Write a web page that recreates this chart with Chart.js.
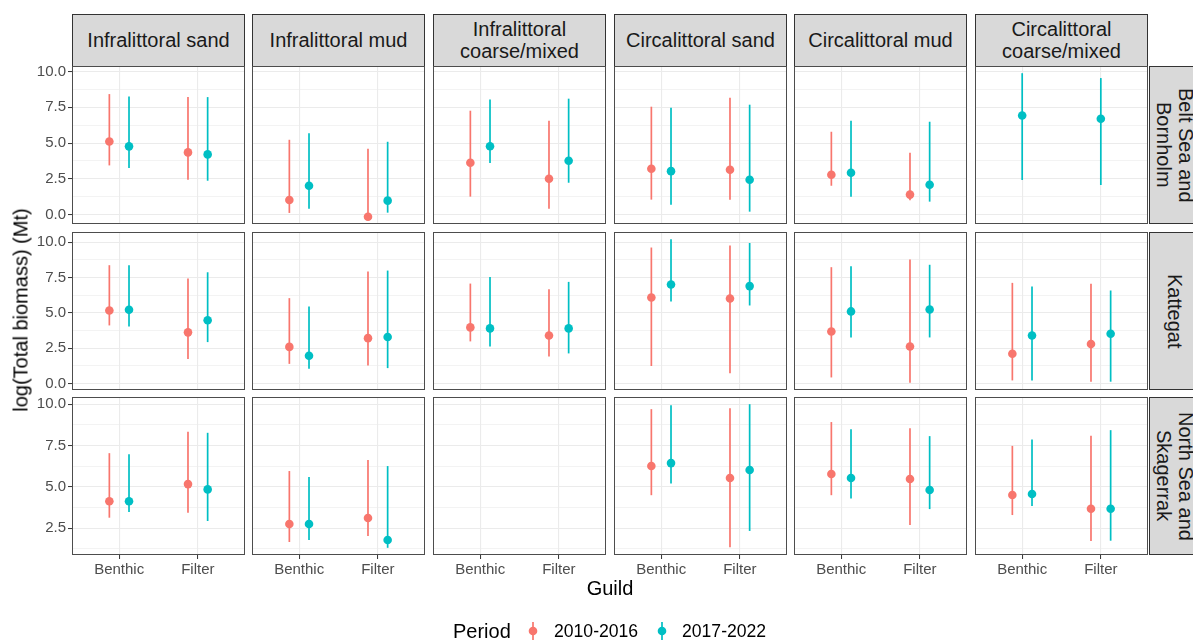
<!DOCTYPE html>
<html>
<head>
<meta charset="utf-8">
<script src="https://cdn.jsdelivr.net/npm/chart.js@4/dist/chart.umd.min.js"></script>
<style>
  body { margin: 0; width: 1193px; height: 640px; overflow: hidden; background: #fff; position: relative;
         font-family: "Liberation Sans", Arial, sans-serif; }
  canvas { position: absolute; }
  .strip { position: absolute; background: #d9d9d9; border: 1px solid #333; box-sizing: border-box;
           display: flex; align-items: center; justify-content: center; text-align: center;
           color: #1a1a1a; font-size: 20px; line-height: 21.7px; white-space: pre-line; }
  .rstrip { writing-mode: vertical-rl; }
  .title { position: absolute; font-size: 20px; color: #000; white-space: nowrap; }
  .leg { position: absolute; white-space: nowrap; color: #000; }
</style>
</head>
<body>
<script>
const habitats = ['Infralittoral sand', 'Infralittoral mud', 'Infralittoral\ncoarse/mixed',
                  'Circalittoral sand', 'Circalittoral mud', 'Circalittoral\ncoarse/mixed'];
const regions = ['Belt Sea and\nBornholm', 'Kattegat', 'North Sea and\nSkagerrak'];
const guilds = ['Benthic', 'Filter'];
const periods = ['2010-2016', '2017-2022'];
const periodColors = ['#F8766D', '#00BFC4'];
const yMajor = [0, 2.5, 5, 7.5, 10];
const yMinor = [1.25, 3.75, 6.25, 8.75];

// [region][habitat] -> [Benthic, Filter]; null = no estimate
const mid2010 = [
  [[5.11, 4.35], [1.02, -0.15], [3.63, 2.51], [3.21, 3.14], [2.79, 1.40], [null, null]],
  [[5.18, 3.63], [2.60, 3.22], [3.98, 3.41], [6.09, 6.02], [3.69, 2.63], [2.12, 2.80]],
  [[4.13, 5.17], [2.76, 3.12], [null, null], [6.26, 5.54], [5.78, 5.48], [4.51, 3.68]]
];
const lo2010 = [
  [[3.44, 2.44], [0.12, -0.15], [1.26, 0.42], [1.05, 1.05], [2.02, 1.00], [null, null]],
  [[4.12, 1.74], [1.40, 1.29], [2.99, 1.93], [1.25, 0.73], [0.44, 0.06], [0.23, 0.14]],
  [[3.14, 3.44], [1.67, 2.03], [null, null], [4.50, 1.35], [4.50, 2.70], [3.30, 1.73]]
];
const hi2010 = [
  [[8.42, 8.21], [5.23, 4.60], [7.26, 6.56], [7.54, 8.16], [5.79, 4.33], [null, null]],
  [[8.38, 7.44], [6.05, 7.93], [7.08, 6.67], [9.63, 9.77], [8.24, 8.78], [7.13, 7.06]],
  [[7.04, 8.33], [5.96, 6.62], [null, null], [9.70, 9.76], [8.92, 8.55], [7.48, 8.09]]
];
const mid2017 = [
  [[4.77, 4.21], [2.02, 0.98], [4.78, 3.77], [3.04, 2.44], [2.93, 2.09], [6.93, 6.70]],
  [[5.23, 4.49], [1.97, 3.30], [3.91, 3.91], [7.01, 6.90], [5.11, 5.25], [3.41, 3.53]],
  [[4.13, 4.85], [2.76, 1.79], [null, null], [6.44, 6.02], [5.54, 4.81], [4.57, 3.68]]
];
const lo2017 = [
  [[3.26, 2.37], [0.42, 0.14], [3.60, 2.23], [0.70, 0.21], [1.26, 0.91], [2.42, 2.07]],
  [[4.05, 2.94], [1.05, 1.10], [2.63, 2.14], [5.81, 5.53], [3.27, 3.27], [0.23, 0.14]],
  [[3.48, 2.94], [1.79, 1.32], [null, null], [5.20, 2.34], [4.30, 3.66], [3.85, 1.75]]
];
const hi2017 = [
  [[8.25, 8.21], [5.68, 5.09], [8.05, 8.10], [7.47, 7.68], [6.56, 6.49], [9.88, 9.54]],
  [[8.38, 7.88], [5.46, 8.00], [7.55, 7.20], [10.22, 9.95], [8.31, 8.41], [6.87, 6.59]],
  [[6.98, 8.27], [5.60, 6.26], [null, null], [9.94, 10.00], [8.49, 8.07], [7.87, 8.43]]
];

const mids = [mid2010, mid2017], los = [lo2010, lo2017], his = [hi2010, hi2017];

// panel layout
const colX = [72, 252, 433, 614, 794, 975];
const rowY = [66, 232, 397];
const W = 173, H = 158;
const FONT = '"Liberation Sans", Arial, sans-serif';

const isMajor = v => yMajor.includes(v);

// y range per row, like ggplot's free_y with 5% expansion
function rowRange(r) {
  let lo = Infinity, hi = -Infinity;
  for (let p = 0; p < 2; p++) {
    for (let h = 0; h < habitats.length; h++) {
      for (let g = 0; g < 2; g++) {
        [mids, los, his].forEach(a => {
          const v = a[p][r][h][g];
          if (v != null) { lo = Math.min(lo, v); hi = Math.max(hi, v); }
        });
      }
    }
  }
  const pad = (hi - lo) * 0.05;
  return [lo - pad, hi + pad];
}

const panelBorder = {
  id: 'panelBorder',
  afterDraw(chart) {
    const a = chart.chartArea, ctx = chart.ctx;
    ctx.save();
    ctx.strokeStyle = '#4d4d4d';
    ctx.lineWidth = 1;
    ctx.strokeRect(a.left + 0.5, a.top + 0.5, a.right - a.left - 1, a.bottom - a.top - 1);
    ctx.restore();
  }
};

function addDiv(cls, text, css) {
  const d = document.createElement('div');
  d.className = cls;
  d.textContent = text;
  Object.assign(d.style, css);
  document.body.appendChild(d);
  return d;
}

function makePanel(r, h) {
  const padL = h === 0 ? 72 : 0;
  const padB = r === 2 ? 30 : 0;
  const cv = document.createElement('canvas');
  cv.width = W + padL;
  cv.height = H + padB;
  cv.style.left = (colX[h] - padL) + 'px';
  cv.style.top = rowY[r] + 'px';
  document.body.appendChild(cv);

  const datasets = [];
  guilds.forEach((g, gi) => {
    const has = [0, 1].map(p => mids[p][r][h][gi] != null);
    const both = has[0] && has[1];
    [0, 1].forEach(p => {
      if (!has[p]) return;
      const x = gi + 1 + (both ? (p === 0 ? -0.125 : 0.125) : 0);
      datasets.push({
        label: periods[p],
        data: [{ x: x, y: los[p][r][h][gi] }, { x: x, y: his[p][r][h][gi] }],
        showLine: true,
        borderColor: periodColors[p],
        borderWidth: 1.7,
        borderCapStyle: 'butt',
        pointRadius: 0
      });
      datasets.push({
        label: periods[p],
        data: [{ x: x, y: mids[p][r][h][gi] }],
        backgroundColor: periodColors[p],
        borderWidth: 0,
        pointRadius: 4.3
      });
    });
  });

  const [ymin, ymax] = rowRange(r);

  new Chart(cv.getContext('2d'), {
    type: 'scatter',
    data: { datasets: datasets },
    options: {
      responsive: false,
      animation: false,
      devicePixelRatio: 1,
      events: [],
      layout: { padding: 0, autoPadding: false },
      plugins: { legend: { display: false }, tooltip: { enabled: false } },
      scales: {
        x: {
          type: 'linear',
          min: 0.4,
          max: 2.6,
          afterBuildTicks: s => { s.ticks = [{ value: 1 }, { value: 2 }]; },
          afterFit: s => { s.height = padB; s.paddingLeft = 0; s.paddingRight = 0; },
          border: { display: false },
          grid: {
            color: '#EBEBEB', lineWidth: 1.1,
            drawTicks: padB > 0, tickLength: 4, tickColor: '#333', tickWidth: 1
          },
          ticks: {
            display: padB > 0, autoSkip: false, maxRotation: 0, padding: 2,
            color: '#4D4D4D', font: { size: 15, family: FONT },
            callback: v => guilds[v - 1]
          }
        },
        y: {
          type: 'linear',
          min: ymin,
          max: ymax,
          afterBuildTicks: s => {
            s.ticks = yMajor.concat(yMinor)
              .filter(v => v >= ymin && v <= ymax)
              .sort((a, b) => a - b)
              .map(v => ({ value: v }));
          },
          afterFit: s => { s.width = padL; s.paddingTop = 0; s.paddingBottom = 0; },
          border: { display: false },
          grid: {
            color: '#EBEBEB',
            lineWidth: c => (c.tick && isMajor(c.tick.value)) ? 1.1 : 0.6,
            drawTicks: padL > 0, tickLength: 4, tickWidth: 1,
            tickColor: c => (c.tick && isMajor(c.tick.value)) ? '#333' : 'rgba(0,0,0,0)'
          },
          ticks: {
            display: padL > 0, autoSkip: false, padding: 2,
            color: '#4D4D4D', font: { size: 15, family: FONT },
            callback: v => isMajor(v) ? v.toFixed(1) : ''
          }
        }
      }
    },
    plugins: [panelBorder]
  });
}

// strips
habitats.forEach((name, h) => {
  addDiv('strip', name, { left: colX[h] + 'px', top: '14px', width: W + 'px', height: '53px' });
});
regions.forEach((name, r) => {
  addDiv('strip rstrip', name, { left: '1149px', top: rowY[r] + 'px', width: '50px', height: H + 'px' });
});

for (let r = 0; r < regions.length; r++) {
  for (let h = 0; h < habitats.length; h++) makePanel(r, h);
}

// axis titles
addDiv('title', 'log(Total biomass) (Mt)',
  { left: '21px', top: '310px', transform: 'translate(-50%, -50%) rotate(-90deg)' });
addDiv('title', 'Guild', { left: '610px', top: '588px', transform: 'translate(-50%, -50%)' });

// legend
addDiv('leg', 'Period', { left: '453px', top: '631px', fontSize: '20px', transform: 'translateY(-50%)' });
const keyX = [533, 662], textX = [554, 682];
periods.forEach((p, i) => {
  const k = document.createElement('div');
  k.className = 'leg';
  Object.assign(k.style, { left: (keyX[i] - 5) + 'px', top: '622px', width: '10px', height: '18px' });
  k.innerHTML = '<svg width="10" height="18"><line x1="5" y1="0" x2="5" y2="18" stroke="' + periodColors[i] +
    '" stroke-width="1.7"/><circle cx="5" cy="9" r="4.3" fill="' + periodColors[i] + '"/></svg>';
  document.body.appendChild(k);
  addDiv('leg', p, { left: textX[i] + 'px', top: '631px', fontSize: '17.6px', transform: 'translateY(-50%)' });
});
</script>
</body>
</html>
